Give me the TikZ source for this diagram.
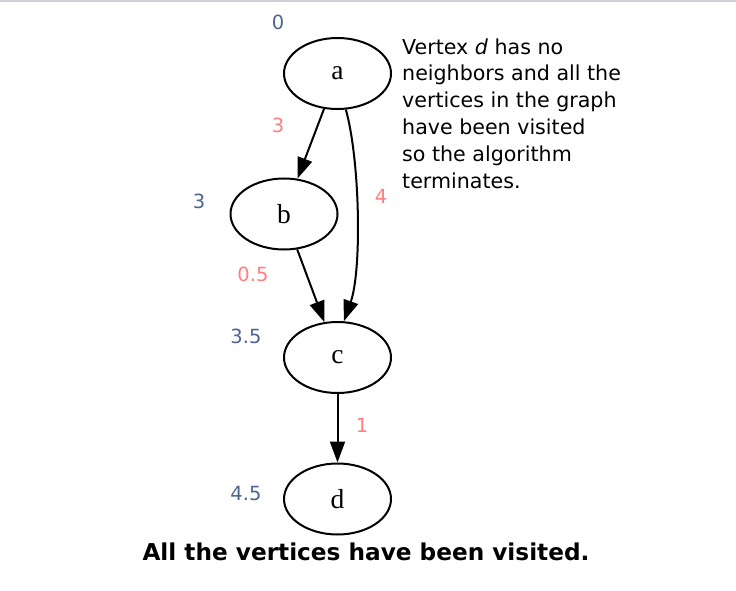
\documentclass[tikz,border=0pt]{standalone}
\usepackage{fontspec}
\setmainfont{DejaVu Sans}
\newfontfamily\nodefont{Liberation Serif}
\usetikzlibrary{shapes.geometric,arrows.meta}
\definecolor{distblue}{HTML}{4D6590}
\definecolor{wsalmon}{HTML}{FF8080}
\definecolor{topgray}{HTML}{D0D0D8}
\tikzset{
  vertex/.style={draw, line width=2pt, ellipse, minimum width=107pt, minimum height=71pt, inner sep=0pt, font=\nodefont\fontsize{27.5}{30}\selectfont},
  edge/.style={line width=2pt, -{Triangle[length=21pt,width=15pt]}},
  dist/.style={anchor=base, inner sep=0pt, text=distblue, font=\fontsize{19.5}{22}\selectfont},
  wlabel/.style={anchor=base, inner sep=0pt, text=wsalmon, font=\fontsize{19.5}{22}\selectfont},
  note/.style={anchor=base west, inner sep=0pt, align=left, font=\fontsize{20.6}{26.8}\selectfont},
  title/.style={anchor=base, inner sep=0pt, font=\bfseries\fontsize{23.2}{26}\selectfont}
}
\begin{document}
\begin{tikzpicture}[x=1pt, y=-1pt]
\useasboundingbox (0,0) rectangle (736,591);
\fill[topgray] (0,0) rectangle (736,2.5);

\node[vertex] (a) at (337.5,73.5) {a};
\node[vertex] (b) at (284,214) {b};
\node[vertex] (c) at (337.5,357.5) {c};
\node[vertex] (d) at (337.5,499) {d};

\draw[edge] (a) -- (b);
\draw[edge] (b) -- (c);
\draw[edge] (a.-77) .. controls (360,160) and (362,270) .. (c.80);
\draw[edge] (c) -- (d);

\node[dist] (da) at (278,30) {0};
\node[dist] (db) at (199,208) {3};
\node[dist] (dc) at (246,343) {3.5};
\node[dist] (dd) at (246,500) {4.5};

\node[wlabel] (wab) at (278,132) {3};
\node[wlabel] (wac) at (381,203) {4};
\node[wlabel] (wbc) at (253,281) {0.5};
\node[wlabel] (wcd) at (362,432) {1};

\node[note] (nt) at (402,188) {Vertex \textit{d} has no\\neighbors and all the\\vertices in the graph\\have been visited\\so the algorithm\\terminates.};

\node[title] (tt) at (366,560) {All the vertices have been visited.};
\end{tikzpicture}
\end{document}
